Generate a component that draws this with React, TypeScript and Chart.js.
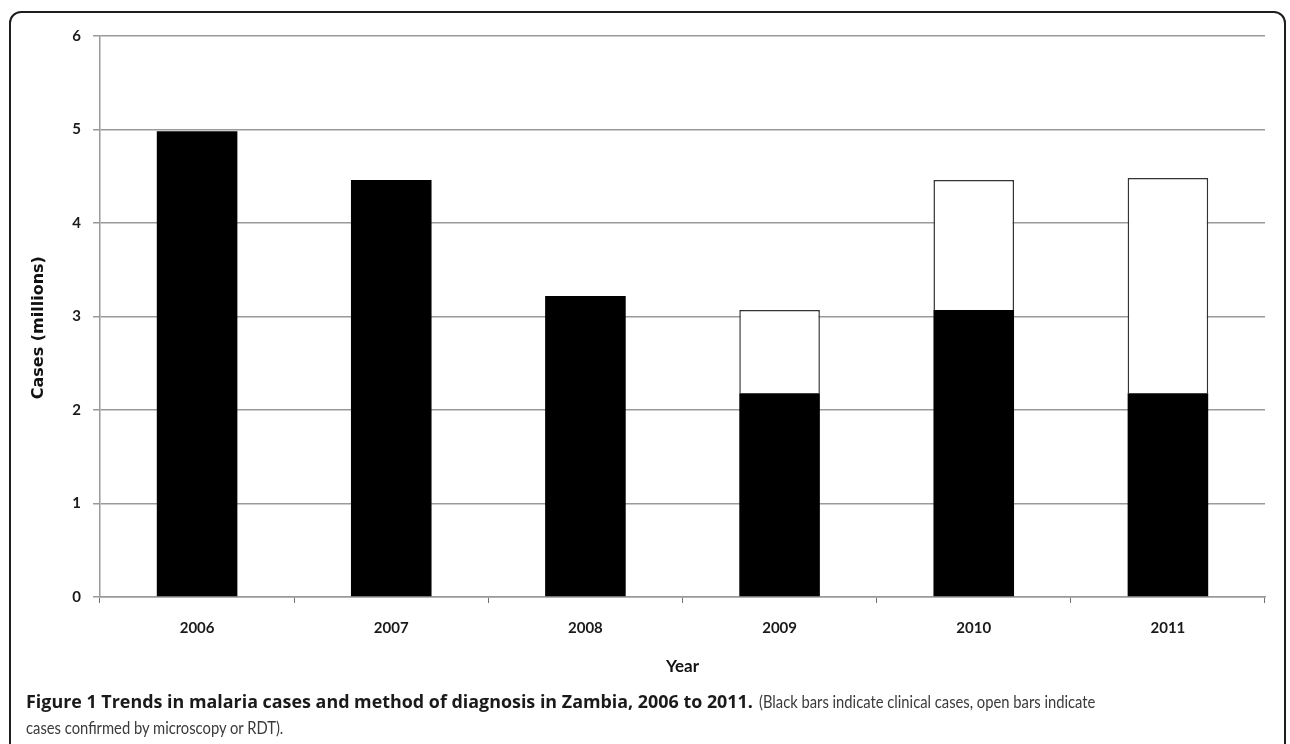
import React, { useEffect, useRef } from "react";
import { Chart, registerables } from "chart.js";

Chart.register(...registerables);

const years: string[] = ["2006", "2007", "2008", "2009", "2010", "2011"];
const clinicalCases: (number | null)[] = [4.98, 4.46, 3.22, 2.18, 3.07, 2.18];
const confirmedCases: (number | null)[] = [null, null, null, 0.89, 1.39, 2.3];
const yTicks: number[] = [0, 1, 2, 3, 4, 5, 6];

const captionBold = "Figure 1 Trends in malaria cases and method of diagnosis in Zambia, 2006 to 2011.";
const captionRest1 = "(Black bars indicate clinical cases, open bars indicate";
const captionRest2 = "cases confirmed by microscopy or RDT).";

export default function App() {
  const canvasRef = useRef<HTMLCanvasElement | null>(null);

  useEffect(() => {
    if (!canvasRef.current) return;
    const chart = new Chart(canvasRef.current, {
      type: "bar",
      data: {
        labels: years,
        datasets: [
          {
            label: "Clinical",
            data: clinicalCases,
            backgroundColor: "#000000",
            borderWidth: 0,
            categoryPercentage: 1,
            barPercentage: 0.415,
          },
          {
            label: "Confirmed",
            data: confirmedCases,
            backgroundColor: "#ffffff",
            borderColor: "#333333",
            borderWidth: 1.5,
            categoryPercentage: 1,
            barPercentage: 0.415,
          },
        ],
      },
      options: {
        animation: false,
        responsive: false,
        maintainAspectRatio: false,
        layout: { padding: { left: 0, right: 25, top: 36, bottom: 0 } },
        plugins: { legend: { display: false }, tooltip: { enabled: false } },
        scales: {
          x: {
            stacked: true,
            afterFit: (s: any) => {
              s.height = 103;
            },
            grid: {
              display: true,
              drawOnChartArea: false,
              drawTicks: true,
              tickLength: 6,
              color: "#707070",
              offset: true,
            },
            border: { display: true, color: "#9a9a9a", width: 1.5 },
            ticks: {
              padding: 16,
              color: "#1a1a1a",
              font: { family: "Lato", size: 15, weight: "bold" },
            },
            title: {
              display: true,
              text: "Year",
              color: "#111111",
              font: { family: "Lato", size: 17, weight: "bold" },
              padding: { top: 0, bottom: 23 },
            },
          },
          y: {
            stacked: true,
            min: 0,
            max: 6,
            afterFit: (s: any) => {
              s.width = 100;
            },
            afterBuildTicks: (s: any) => {
              s.ticks = yTicks.map((v) => ({ value: v }));
            },
            grid: {
              color: "#9a9a9a",
              lineWidth: 1.5,
              drawTicks: true,
              tickLength: 7,
            },
            border: { display: true, color: "#9a9a9a", width: 1.5 },
            ticks: {
              padding: 12,
              color: "#1a1a1a",
              font: { family: "Lato", size: 15, weight: "bold" },
            },
            title: {
              display: true,
              text: "Cases (millions)    ",
              color: "#111111",
              font: { family: "DejaVu Sans", size: 16, weight: "bold" },
              padding: { top: 29, bottom: 0 },
            },
          },
        },
      },
    });
    return () => chart.destroy();
  }, []);

  const condensed: React.CSSProperties = {
    display: "inline-block",
    transform: "scaleX(0.82)",
    transformOrigin: "left center",
    fontFamily: "Lato, sans-serif",
    fontWeight: 400,
    fontSize: 18,
    color: "#3a3a3a",
  };

  return (
    <div
      style={{
        position: "fixed",
        left: 0,
        top: 0,
        width: 1290,
        height: 744,
        overflow: "hidden",
        background: "#ffffff",
      }}
    >
      <div
        style={{
          position: "absolute",
          left: 9,
          top: 11,
          width: 1277,
          height: 800,
          border: "2px solid #1e1e1e",
          borderRadius: 12,
          boxSizing: "border-box",
        }}
      />
      <canvas
        ref={canvasRef}
        width={1290}
        height={700}
        style={{ position: "absolute", left: 0, top: 0, width: 1290, height: 700 }}
      />
      <div
        style={{
          position: "absolute",
          left: 26,
          top: 689,
          width: 1240,
          fontSize: 17,
          lineHeight: "24px",
          whiteSpace: "nowrap",
        }}
      >
        <div>
          <span
            style={{
              fontFamily: "'Open Sans', sans-serif",
              fontWeight: 700,
              fontSize: 17.9,
              color: "#1a1a1a",
              marginRight: 6,
            }}
          >
            {captionBold}
          </span>
          <span style={condensed}>{captionRest1}</span>
        </div>
        <div>
          <span style={condensed}>{captionRest2}</span>
        </div>
      </div>
    </div>
  );
}
